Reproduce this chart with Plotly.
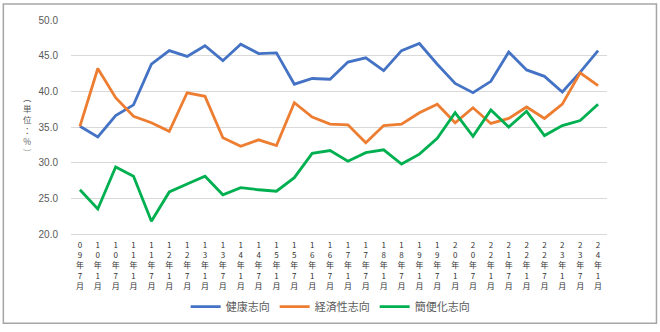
import plotly.graph_objects as go

labels = ["09年7月", "10年1月", "10年7月", "11年1月", "11年7月", "12年1月", "12年7月",
          "13年1月", "13年7月", "14年1月", "14年7月", "15年1月", "15年7月", "16年1月",
          "16年7月", "17年1月", "17年7月", "18年1月", "18年7月", "19年1月", "19年7月",
          "20年1月", "20年7月", "22年1月", "21年7月", "22年1月", "22年7月", "23年1月",
          "23年7月", "24年1月"]

kenko = [35.1, 33.6, 36.6, 38.1, 43.8, 45.7, 44.9, 46.4, 44.3, 46.6, 45.3, 45.4, 41.0, 41.8,
         41.7, 44.1, 44.7, 42.9, 45.7, 46.7, 43.8, 41.1, 39.8, 41.4, 45.5, 43.0, 42.1, 39.9,
         42.7, 45.7]
keizai = [35.1, 43.2, 39.1, 36.5, 35.6, 34.4, 39.8, 39.3, 33.5, 32.3, 33.2, 32.4, 38.4, 36.4,
          35.4, 35.3, 32.8, 35.2, 35.4, 37.0, 38.2, 35.6, 37.7, 35.5, 36.2, 37.8, 36.2, 38.2,
          42.6, 40.8]
kanben = [26.2, 23.5, 29.4, 28.1, 21.8, 25.9, 27.0, 28.1, 25.5, 26.5, 26.2, 26.0, 27.9, 31.3,
          31.7, 30.2, 31.4, 31.8, 29.8, 31.2, 33.4, 37.0, 33.7, 37.4, 35.0, 37.2, 33.8, 35.2,
          35.9, 38.2]

series_names = ["健康志向", "経済性志向", "簡便化志向"]
colors = ["#4472C4", "#ED7D31", "#00B050"]
y_ticks = [20, 25, 30, 35, 40, 45, 50]
y_title = "︵<br>単<br>位<br>：<br>%<br>︶"

W, H = 660, 332
L, R, T, B = 70.7, 607.0, 20.0, 235.3

def px(x):
    return (x - L) / (R - L)

def py(y):
    return (B - y) / (B - T)

xs = list(range(len(labels)))
fig = go.Figure()
for name, vals, c in zip(series_names, [kenko, keizai, kanben], colors):
    fig.add_trace(go.Scatter(x=xs, y=vals, mode="lines", name=name,
                             line=dict(color=c, width=2.8)))

ticktext = ["<br>".join(list(s)) for s in labels]

fig.update_layout(
    width=W, height=H,
    margin=dict(l=L, r=W - R, t=T, b=H - B, pad=0),
    paper_bgcolor="white", plot_bgcolor="white",
    font=dict(family="Noto Sans CJK JP", color="#595959"),
    showlegend=True,
    legend=dict(orientation="h", x=px(330), xanchor="center", y=py(307), yanchor="middle",
                font=dict(size=11, color="#595959", family="Noto Sans CJK JP"),
                itemwidth=30, tracegroupgap=0),
    xaxis=dict(range=[-0.5, len(labels) - 0.5], tickmode="array", tickvals=xs,
               ticktext=ticktext, tickangle=0, showgrid=False, zeroline=False,
               showline=True, linecolor="#D9D9D9", linewidth=1,
               tickfont=dict(size=8, color="#333333", family="Noto Sans CJK JP"),
               ticks="", ticklabelstandoff=3),
    yaxis=dict(range=[20, 50], tickmode="array", tickvals=y_ticks,
               ticktext=[f"{v:.1f}" for v in y_ticks],
               showgrid=True, gridcolor="#D9D9D9", gridwidth=1, zeroline=False,
               showline=False, ticks="", ticklabelstandoff=12,
               tickfont=dict(size=10, color="#595959", family="Liberation Sans")),
)

# vertical axis title "(単位：%)"
fig.add_annotation(xref="paper", yref="paper", x=px(27), y=py(125), text=y_title,
                   showarrow=False, xanchor="center", yanchor="middle", align="center",
                   font=dict(size=8.5, color="#595959", family="Noto Sans CJK JP"))

# outer frame
fig.add_shape(type="rect", xref="paper", yref="paper",
              x0=px(3), x1=px(656.5), y0=py(325), y1=py(4),
              line=dict(color="#A6A6A6", width=1.5), layer="below")

fig.write_html("out.html")
